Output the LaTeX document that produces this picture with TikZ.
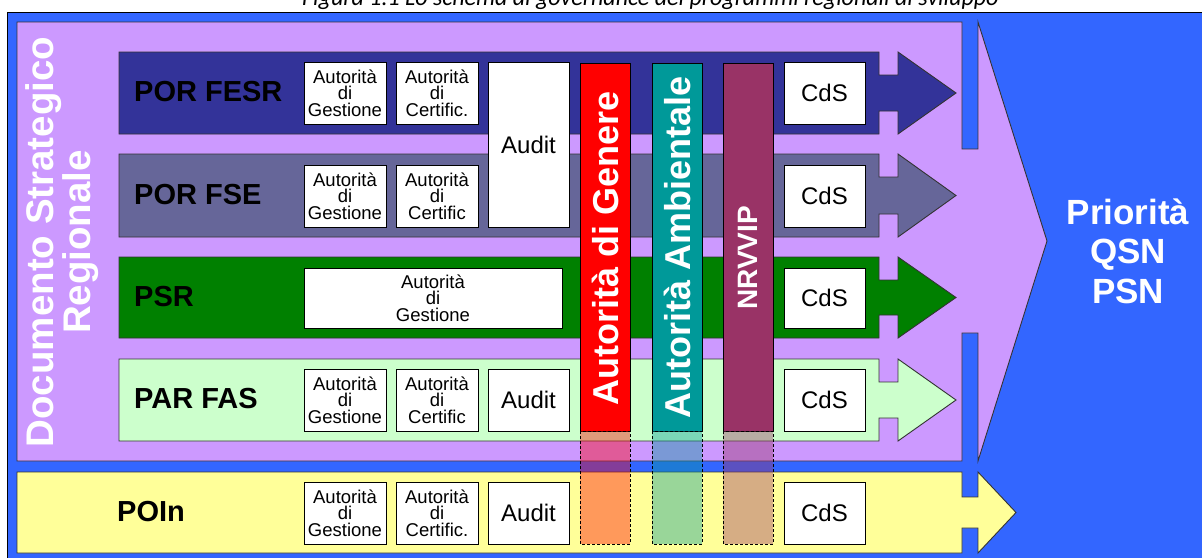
\documentclass[tikz,border=0pt]{standalone}
\usepackage{fontspec}
\setmainfont{Liberation Sans}
\newfontfamily\captionfont{Carlito}
\definecolor{bgblue}{HTML}{3366FF}
\definecolor{dsrpurple}{HTML}{CC99FF}
\definecolor{fesr}{HTML}{333399}
\definecolor{fse}{HTML}{666699}
\definecolor{psr}{HTML}{008000}
\definecolor{parfas}{HTML}{CCFFCC}
\definecolor{poin}{HTML}{FFFF99}
\definecolor{agred}{HTML}{FF0000}
\definecolor{aateal}{HTML}{009999}
\definecolor{nrvvip}{HTML}{993366}
\definecolor{edge}{HTML}{333333}
\newcommand\setfs[2]{\fontsize{#1}{#2}\selectfont}
\newcommand\progbar[3]{%
  \filldraw[shapeline, fill=#3] (119,#1) -- (879,#1) -- (879,#1+23) -- (898,#1+23) -- (898,#1)
    -- (956,{(#1+#2)/2}) -- (898,#2) -- (898,#2-23) -- (879,#2-23) -- (879,#2) -- (119,#2) -- cycle;}
\begin{document}
\begin{tikzpicture}[x=1pt,y=-1pt,
  shapeline/.style={draw=edge, line width=0.9pt, line join=miter},
  wbox/.style={draw=black, fill=white, line width=0.8pt, inner sep=0pt, align=center},
  smalltxt/.style={font=\setfs{18.5}{16.5}},
  bigtxt/.style={font=\setfs{24}{28}},
  progtitle/.style={font=\bfseries\setfs{29}{32}, anchor=west, inner sep=0pt},
  vbarsolid/.style={draw=black, line width=0.8pt},
  vbardash/.style={draw=black, line width=0.6pt, dash pattern=on 3pt off 2pt, fill opacity=0.4},
  vtext/.style={rotate=90, text=white, font=\bfseries\setfs{36}{40}, inner sep=0pt},
]
\useasboundingbox (0,0) rectangle (1202,557);
\clip (0,0) rectangle (1202,557);
% caption (cut off at top)
\node[anchor=base west, inner sep=0pt, font=\captionfont\itshape\setfs{24}{28}] (cap) at (302,5)
  {Figura 1.1 Lo schema di governance dei programmi regionali di sviluppo};
% background
\filldraw[fill=bgblue, draw=black, line width=0.9pt] (7.5,12.5) rectangle (1215,570);
% Documento Strategico Regionale arrow
\filldraw[shapeline, fill=dsrpurple] (17,22) -- (962,22) -- (962,149) -- (978,149) -- (978,22)
  -- (1047,241) -- (978,461) -- (978,333) -- (962,333) -- (962,461) -- (17,461) -- cycle;
\node[rotate=90, text=white, font=\bfseries\setfs{38.5}{37.5}, align=center, inner sep=0pt] (dsr) at (62,242)
  {Documento Strategico\\Regionale};
% POIn arrow
\filldraw[shapeline, fill=poin] (17,472) -- (962,472) -- (962,497) -- (978,497) -- (978,472)
  -- (1016,512.5) -- (978,553) -- (978,528) -- (962,528) -- (962,553) -- (17,553) -- cycle;
% programme arrows
\progbar{52}{134}{fesr}
\progbar{154}{237}{fse}
\progbar{257}{338}{psr}
\progbar{359}{441}{parfas}
% titles
\node[progtitle] (tfesr) at (134,92) {POR FESR};
\node[progtitle] (tfse) at (134,195) {POR FSE};
\node[progtitle] (tpsr) at (134,297) {PSR};
\node[progtitle] (tpar) at (134,399) {PAR FAS};
\node[progtitle] (tpoin) at (117,512) {POIn};
% FESR row
\node[wbox, smalltxt, minimum width=82pt, minimum height=62pt] (agfesr) at (345,93) {Autorità\\di\\Gestione};
\node[wbox, smalltxt, minimum width=82pt, minimum height=62pt] (acfesr) at (437,93) {Autorità\\di\\Certific.};
\node[wbox, bigtxt, minimum width=81pt, minimum height=165pt] (audit1) at (528.5,144.5) {Audit};
\node[wbox, bigtxt, minimum width=81pt, minimum height=62pt] (cdsfesr) at (824.5,93) {CdS};
% FSE row
\node[wbox, smalltxt, minimum width=82pt, minimum height=62pt] (agfse) at (345,196) {Autorità\\di\\Gestione};
\node[wbox, smalltxt, minimum width=82pt, minimum height=62pt] (acfse) at (437,196) {Autorità\\di\\Certific};
\node[wbox, bigtxt, minimum width=81pt, minimum height=62pt] (cdsfse) at (824.5,196) {CdS};
% PSR row
\node[wbox, smalltxt, minimum width=258pt, minimum height=60pt] (agpsr) at (433,298) {Autorità\\di\\Gestione};
\node[wbox, bigtxt, minimum width=81pt, minimum height=60pt] (cdspsr) at (824.5,298) {CdS};
% PAR FAS row
\node[wbox, smalltxt, minimum width=82pt, minimum height=62pt] (agpar) at (345,400) {Autorità\\di\\Gestione};
\node[wbox, smalltxt, minimum width=82pt, minimum height=62pt] (acpar) at (437,400) {Autorità\\di\\Certific};
\node[wbox, bigtxt, minimum width=81pt, minimum height=62pt] (auditpar) at (528.5,400) {Audit};
\node[wbox, bigtxt, minimum width=81pt, minimum height=62pt] (cdspar) at (824.5,400) {CdS};
% POIn row
\node[wbox, smalltxt, minimum width=82pt, minimum height=62pt] (agpoin) at (345,513) {Autorità\\di\\Gestione};
\node[wbox, smalltxt, minimum width=82pt, minimum height=62pt] (acpoin) at (437,513) {Autorità\\di\\Certific.};
\node[wbox, bigtxt, minimum width=81pt, minimum height=62pt] (auditpoin) at (528.5,513) {Audit};
\node[wbox, bigtxt, minimum width=81pt, minimum height=62pt] (cdspoin) at (824.5,513) {CdS};
% vertical bars
\filldraw[vbarsolid, fill=agred] (580,63) rectangle (630,431);
\filldraw[vbardash, fill=agred] (580,431) rectangle (630,544);
\filldraw[vbarsolid, fill=aateal] (652,63) rectangle (702,431);
\filldraw[vbardash, fill=aateal] (652,431) rectangle (702,544);
\filldraw[vbarsolid, fill=nrvvip] (723,63) rectangle (773,431);
\filldraw[vbardash, fill=nrvvip] (723,431) rectangle (773,544);
\node[vtext] (tgen) at (605,248) {Autorità di Genere};
\node[vtext] (tamb) at (677,247) {Autorità Ambientale};
\node[vtext, font=\bfseries\setfs{28}{30}] (tnrv) at (748,258) {NRVVIP};
% priorities
\node[text=white, font=\bfseries\setfs{35}{39.5}, align=center, inner sep=0pt] (prio) at (1128,251) {Priorità\\QSN\\PSN};
\end{tikzpicture}
\end{document}
